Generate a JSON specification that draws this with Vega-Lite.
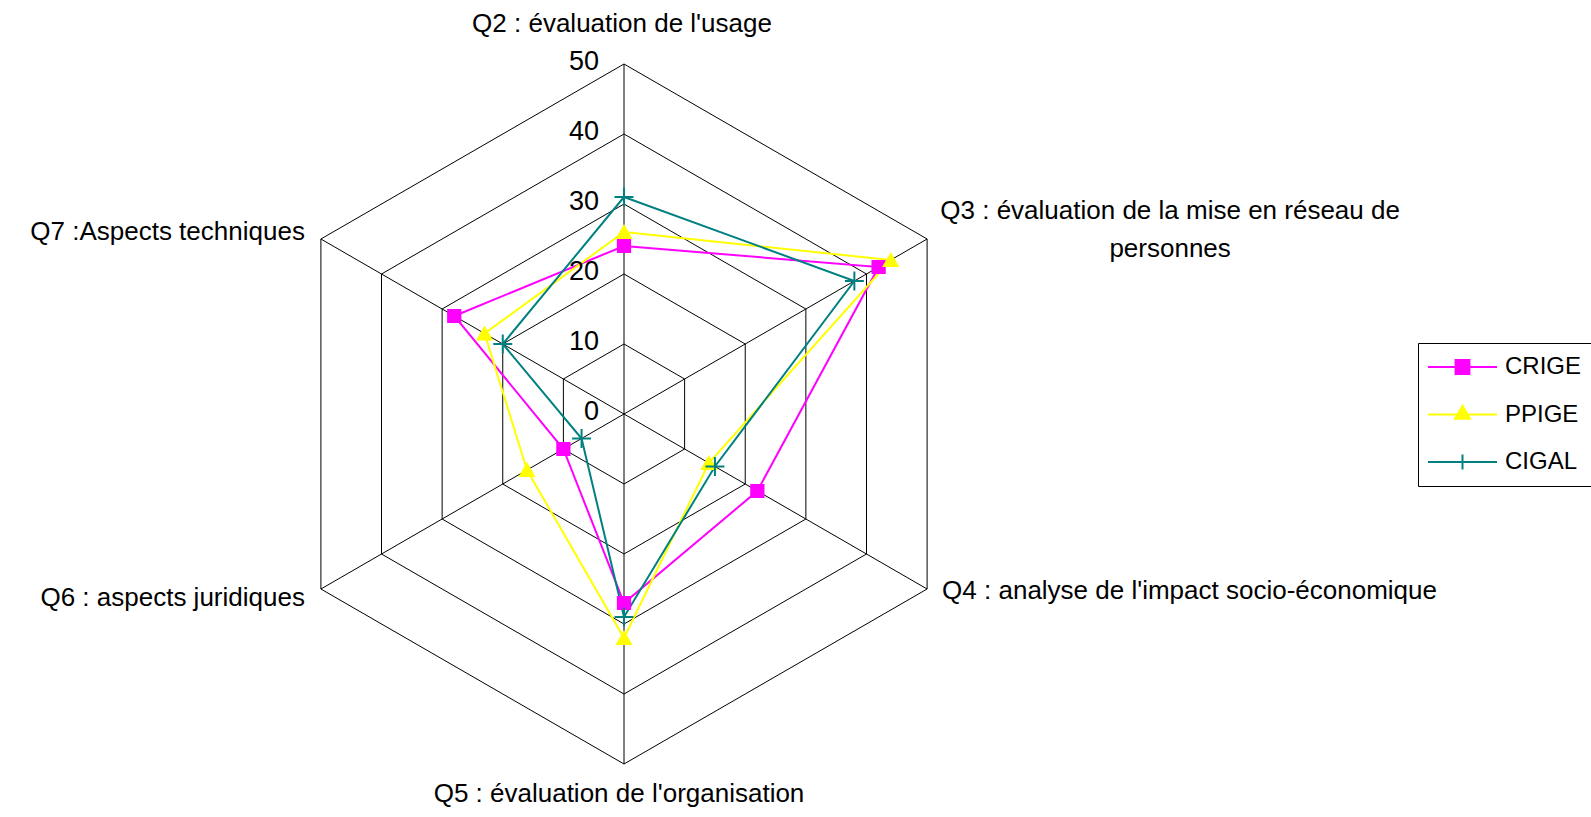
{
  "$schema": "https://vega.github.io/schema/vega-lite/v6.json",
  "width": 1591,
  "height": 817,
  "autosize": {"type": "none"},
  "padding": 0,
  "background": "white",
  "config": {
    "view": {"stroke": null},
    "font": "Liberation Sans",
    "text": {"font": "Liberation Sans", "color": "black"},
    "legend": {
      "orient": "none",
      "legendX": 1418,
      "legendY": 343,
      "strokeColor": "black",
      "fillColor": "white",
      "padding": 9,
      "cornerRadius": 0,
      "symbolSize": 4761,
      "symbolStrokeWidth": 2,
      "labelFont": "Liberation Sans",
      "labelFontSize": 24,
      "labelColor": "black",
      "labelOffset": 7,
      "clipHeight": 30,
      "rowPadding": 17.5
    }
  },
  "datasets": {
    "series": [
      {"series": "CRIGE", "q": "Q2", "i": 0, "v": 24},
      {"series": "CRIGE", "q": "Q3", "i": 1, "v": 42},
      {"series": "CRIGE", "q": "Q4", "i": 2, "v": 22},
      {"series": "CRIGE", "q": "Q5", "i": 3, "v": 27},
      {"series": "CRIGE", "q": "Q6", "i": 4, "v": 10},
      {"series": "CRIGE", "q": "Q7", "i": 5, "v": 28},
      {"series": "PPIGE", "q": "Q2", "i": 0, "v": 26},
      {"series": "PPIGE", "q": "Q3", "i": 1, "v": 44},
      {"series": "PPIGE", "q": "Q4", "i": 2, "v": 14},
      {"series": "PPIGE", "q": "Q5", "i": 3, "v": 32},
      {"series": "PPIGE", "q": "Q6", "i": 4, "v": 16},
      {"series": "PPIGE", "q": "Q7", "i": 5, "v": 23},
      {"series": "CIGAL", "q": "Q2", "i": 0, "v": 31},
      {"series": "CIGAL", "q": "Q3", "i": 1, "v": 38},
      {"series": "CIGAL", "q": "Q4", "i": 2, "v": 15},
      {"series": "CIGAL", "q": "Q5", "i": 3, "v": 29},
      {"series": "CIGAL", "q": "Q6", "i": 4, "v": 7},
      {"series": "CIGAL", "q": "Q7", "i": 5, "v": 20}
    ],
    "cats": [
      {"label": "Q2 : évaluation de l'usage", "i": 0, "v": 50},
      {"label": "Q3 : évaluation de la mise en réseau de\npersonnes", "i": 1, "v": 50},
      {"label": "Q4 : analyse de l'impact socio-économique", "i": 2, "v": 50},
      {"label": "Q5 : évaluation de l'organisation", "i": 3, "v": 50},
      {"label": "Q6 : aspects juridiques", "i": 4, "v": 50},
      {"label": "Q7 :Aspects techniques", "i": 5, "v": 50}
    ],
    "rings": [
      {"v": 10, "i": [0, 1, 2, 3, 4, 5]},
      {"v": 20, "i": [0, 1, 2, 3, 4, 5]},
      {"v": 30, "i": [0, 1, 2, 3, 4, 5]},
      {"v": 40, "i": [0, 1, 2, 3, 4, 5]},
      {"v": 50, "i": [0, 1, 2, 3, 4, 5]}
    ],
    "spokes": [
      {"i": 0, "v": [0, 50]},
      {"i": 1, "v": [0, 50]},
      {"i": 2, "v": [0, 50]},
      {"i": 3, "v": [0, 50]},
      {"i": 4, "v": [0, 50]},
      {"i": 5, "v": [0, 50]}
    ],
    "ticks": [
      {"t": 0}, {"t": 10}, {"t": 20}, {"t": 30}, {"t": 40}, {"t": 50}
    ]
  },
  "layer": [
    {
      "data": {"name": "rings"},
      "transform": [
        {"flatten": ["i"]},
        {"calculate": "PI/2 - datum.i*PI/3", "as": "a"},
        {"calculate": "datum.v*cos(datum.a)", "as": "x"},
        {"calculate": "datum.v*sin(datum.a)", "as": "y"}
      ],
      "mark": {"type": "line", "interpolate": "linear-closed", "color": "black", "strokeWidth": 1},
      "encoding": {
        "x": {"field": "x", "type": "quantitative", "scale": {"domain": [-89.142857, 138.142857], "nice": false, "zero": false}, "axis": null},
        "y": {"field": "y", "type": "quantitative", "scale": {"domain": [-57.571429, 59.142857], "nice": false, "zero": false}, "axis": null},
        "detail": {"field": "v", "type": "nominal"},
        "order": {"field": "i", "type": "quantitative"}
      }
    },
    {
      "data": {"name": "spokes"},
      "transform": [
        {"flatten": ["v"]},
        {"calculate": "PI/2 - datum.i*PI/3", "as": "a"},
        {"calculate": "datum.v*cos(datum.a)", "as": "x"},
        {"calculate": "datum.v*sin(datum.a)", "as": "y"}
      ],
      "mark": {"type": "line", "color": "black", "strokeWidth": 1},
      "encoding": {
        "x": {"field": "x", "type": "quantitative", "scale": {"domain": [-89.142857, 138.142857], "nice": false, "zero": false}, "axis": null},
        "y": {"field": "y", "type": "quantitative", "scale": {"domain": [-57.571429, 59.142857], "nice": false, "zero": false}, "axis": null},
        "detail": {"field": "i", "type": "nominal"},
        "order": {"field": "v", "type": "quantitative"}
      }
    },
    {
      "data": {"name": "series"},
      "transform": [
        {"calculate": "PI/2 - datum.i*PI/3", "as": "a"},
        {"calculate": "datum.v*cos(datum.a)", "as": "x"},
        {"calculate": "datum.v*sin(datum.a)", "as": "y"}
      ],
      "mark": {"type": "line", "interpolate": "linear-closed", "strokeWidth": 2},
      "encoding": {
        "x": {"field": "x", "type": "quantitative", "scale": {"domain": [-89.142857, 138.142857], "nice": false, "zero": false}, "axis": null},
        "y": {"field": "y", "type": "quantitative", "scale": {"domain": [-57.571429, 59.142857], "nice": false, "zero": false}, "axis": null},
        "color": {"field": "series", "type": "nominal", "scale": {"domain": ["CRIGE", "PPIGE", "CIGAL"], "range": ["#FF00FF", "#FFFF00", "#008080"]}, "legend": null},
        "order": {"field": "i", "type": "quantitative"}
      }
    },
    {
      "data": {"name": "series"},
      "transform": [
        {"calculate": "PI/2 - datum.i*PI/3", "as": "a"},
        {"calculate": "datum.v*cos(datum.a)", "as": "x"},
        {"calculate": "datum.v*sin(datum.a)", "as": "y"}
      ],
      "mark": {"type": "point", "opacity": 1, "strokeWidth": 2},
      "encoding": {
        "x": {"field": "x", "type": "quantitative", "scale": {"domain": [-89.142857, 138.142857], "nice": false, "zero": false}, "axis": null},
        "y": {"field": "y", "type": "quantitative", "scale": {"domain": [-57.571429, 59.142857], "nice": false, "zero": false}, "axis": null},
        "shape": {"field": "series", "type": "nominal", "scale": {"domain": ["CRIGE", "PPIGE", "CIGAL"], "range": ["square", "triangle-up", "M-1.25,0H1.25M0,-1.25V1.25"]}, "legend": null},
        "fill": {"field": "series", "type": "nominal", "scale": {"domain": ["CRIGE", "PPIGE", "CIGAL"], "range": ["#FF00FF", "#FFFF00", "transparent"]}, "legend": null},
        "stroke": {"field": "series", "type": "nominal", "scale": {"domain": ["CRIGE", "PPIGE", "CIGAL"], "range": ["#FF00FF", "#FFFF00", "#008080"]}, "legend": null},
        "size": {"field": "series", "type": "nominal", "scale": {"domain": ["CRIGE", "PPIGE", "CIGAL"], "range": [150, 230, 160]}, "legend": null}
      }
    },
    {
      "data": {"name": "series"},
      "transform": [
        {"filter": "datum.i < 0"},
        {"calculate": "0", "as": "x"},
        {"calculate": "0", "as": "y"}
      ],
      "mark": {"type": "point", "opacity": 1, "strokeWidth": 2},
      "encoding": {
        "x": {"field": "x", "type": "quantitative", "scale": {"domain": [-89.142857, 138.142857], "nice": false, "zero": false}, "axis": null},
        "y": {"field": "y", "type": "quantitative", "scale": {"domain": [-57.571429, 59.142857], "nice": false, "zero": false}, "axis": null},
        "fill": {"field": "series", "type": "nominal", "title": null, "scale": {"domain": ["CRIGE", "PPIGE", "CIGAL"], "range": ["#FF00FF", "#FFFF00", "transparent"]}},
        "stroke": {"field": "series", "type": "nominal", "title": null, "scale": {"domain": ["CRIGE", "PPIGE", "CIGAL"], "range": ["#FF00FF", "#FFFF00", "#008080"]}},
        "shape": {"field": "series", "type": "nominal", "title": null, "scale": {"domain": ["CRIGE", "PPIGE", "CIGAL"], "range": ["M-1,0H1M-0.2,-0.2H0.2V0.2H-0.2Z", "M-1,0H1M0,-0.25L0.217,0.125H-0.217Z", "M-1,0H1M0,-0.22V0.22"]}}
      }
    },
    {
      "data": {"name": "ticks"},
      "transform": [{"calculate": "0", "as": "x"}],
      "mark": {"type": "text", "align": "right", "baseline": "middle", "dx": -25, "dy": -2, "fontSize": 27},
      "encoding": {
        "x": {"field": "x", "type": "quantitative", "scale": {"domain": [-89.142857, 138.142857], "nice": false, "zero": false}, "axis": null},
        "y": {"field": "t", "type": "quantitative", "scale": {"domain": [-57.571429, 59.142857], "nice": false, "zero": false}, "axis": null},
        "text": {"field": "t", "type": "quantitative"}
      }
    },
    {
      "data": {"name": "cats"},
      "transform": [
        {"filter": "datum.i == 0"},
        {"calculate": "PI/2 - datum.i*PI/3", "as": "a"},
        {"calculate": "datum.v*cos(datum.a)", "as": "x"},
        {"calculate": "datum.v*sin(datum.a)", "as": "y"}
      ],
      "mark": {"type": "text", "align": "center", "baseline": "alphabetic", "dx": -2, "dy": -32, "fontSize": 26},
      "encoding": {
        "x": {"field": "x", "type": "quantitative", "scale": {"domain": [-89.142857, 138.142857], "nice": false, "zero": false}, "axis": null},
        "y": {"field": "y", "type": "quantitative", "scale": {"domain": [-57.571429, 59.142857], "nice": false, "zero": false}, "axis": null},
        "text": {"field": "label", "type": "nominal"}
      }
    },
    {
      "data": {"name": "cats"},
      "transform": [
        {"filter": "datum.i == 1"},
        {"calculate": "PI/2 - datum.i*PI/3", "as": "a"},
        {"calculate": "datum.v*cos(datum.a)", "as": "x"},
        {"calculate": "datum.v*sin(datum.a)", "as": "y"}
      ],
      "mark": {"type": "text", "align": "center", "baseline": "alphabetic", "dx": 243, "dy": -20, "fontSize": 26, "lineBreak": "\n", "lineHeight": 38},
      "encoding": {
        "x": {"field": "x", "type": "quantitative", "scale": {"domain": [-89.142857, 138.142857], "nice": false, "zero": false}, "axis": null},
        "y": {"field": "y", "type": "quantitative", "scale": {"domain": [-57.571429, 59.142857], "nice": false, "zero": false}, "axis": null},
        "text": {"field": "label", "type": "nominal"}
      }
    },
    {
      "data": {"name": "cats"},
      "transform": [
        {"filter": "datum.i == 2"},
        {"calculate": "PI/2 - datum.i*PI/3", "as": "a"},
        {"calculate": "datum.v*cos(datum.a)", "as": "x"},
        {"calculate": "datum.v*sin(datum.a)", "as": "y"}
      ],
      "mark": {"type": "text", "align": "left", "baseline": "alphabetic", "dx": 15, "dy": 10, "fontSize": 26},
      "encoding": {
        "x": {"field": "x", "type": "quantitative", "scale": {"domain": [-89.142857, 138.142857], "nice": false, "zero": false}, "axis": null},
        "y": {"field": "y", "type": "quantitative", "scale": {"domain": [-57.571429, 59.142857], "nice": false, "zero": false}, "axis": null},
        "text": {"field": "label", "type": "nominal"}
      }
    },
    {
      "data": {"name": "cats"},
      "transform": [
        {"filter": "datum.i == 3"},
        {"calculate": "PI/2 - datum.i*PI/3", "as": "a"},
        {"calculate": "datum.v*cos(datum.a)", "as": "x"},
        {"calculate": "datum.v*sin(datum.a)", "as": "y"}
      ],
      "mark": {"type": "text", "align": "center", "baseline": "alphabetic", "dx": -5, "dy": 38, "fontSize": 26},
      "encoding": {
        "x": {"field": "x", "type": "quantitative", "scale": {"domain": [-89.142857, 138.142857], "nice": false, "zero": false}, "axis": null},
        "y": {"field": "y", "type": "quantitative", "scale": {"domain": [-57.571429, 59.142857], "nice": false, "zero": false}, "axis": null},
        "text": {"field": "label", "type": "nominal"}
      }
    },
    {
      "data": {"name": "cats"},
      "transform": [
        {"filter": "datum.i == 4"},
        {"calculate": "PI/2 - datum.i*PI/3", "as": "a"},
        {"calculate": "datum.v*cos(datum.a)", "as": "x"},
        {"calculate": "datum.v*sin(datum.a)", "as": "y"}
      ],
      "mark": {"type": "text", "align": "right", "baseline": "alphabetic", "dx": -16, "dy": 17, "fontSize": 26},
      "encoding": {
        "x": {"field": "x", "type": "quantitative", "scale": {"domain": [-89.142857, 138.142857], "nice": false, "zero": false}, "axis": null},
        "y": {"field": "y", "type": "quantitative", "scale": {"domain": [-57.571429, 59.142857], "nice": false, "zero": false}, "axis": null},
        "text": {"field": "label", "type": "nominal"}
      }
    },
    {
      "data": {"name": "cats"},
      "transform": [
        {"filter": "datum.i == 5"},
        {"calculate": "PI/2 - datum.i*PI/3", "as": "a"},
        {"calculate": "datum.v*cos(datum.a)", "as": "x"},
        {"calculate": "datum.v*sin(datum.a)", "as": "y"}
      ],
      "mark": {"type": "text", "align": "right", "baseline": "alphabetic", "dx": -16, "dy": 1, "fontSize": 26},
      "encoding": {
        "x": {"field": "x", "type": "quantitative", "scale": {"domain": [-89.142857, 138.142857], "nice": false, "zero": false}, "axis": null},
        "y": {"field": "y", "type": "quantitative", "scale": {"domain": [-57.571429, 59.142857], "nice": false, "zero": false}, "axis": null},
        "text": {"field": "label", "type": "nominal"}
      }
    }
  ],
  "resolve": {
    "scale": {"shape": "independent", "fill": "independent", "stroke": "independent"},
    "legend": {"shape": "independent", "fill": "independent", "stroke": "independent"}
  }
}
